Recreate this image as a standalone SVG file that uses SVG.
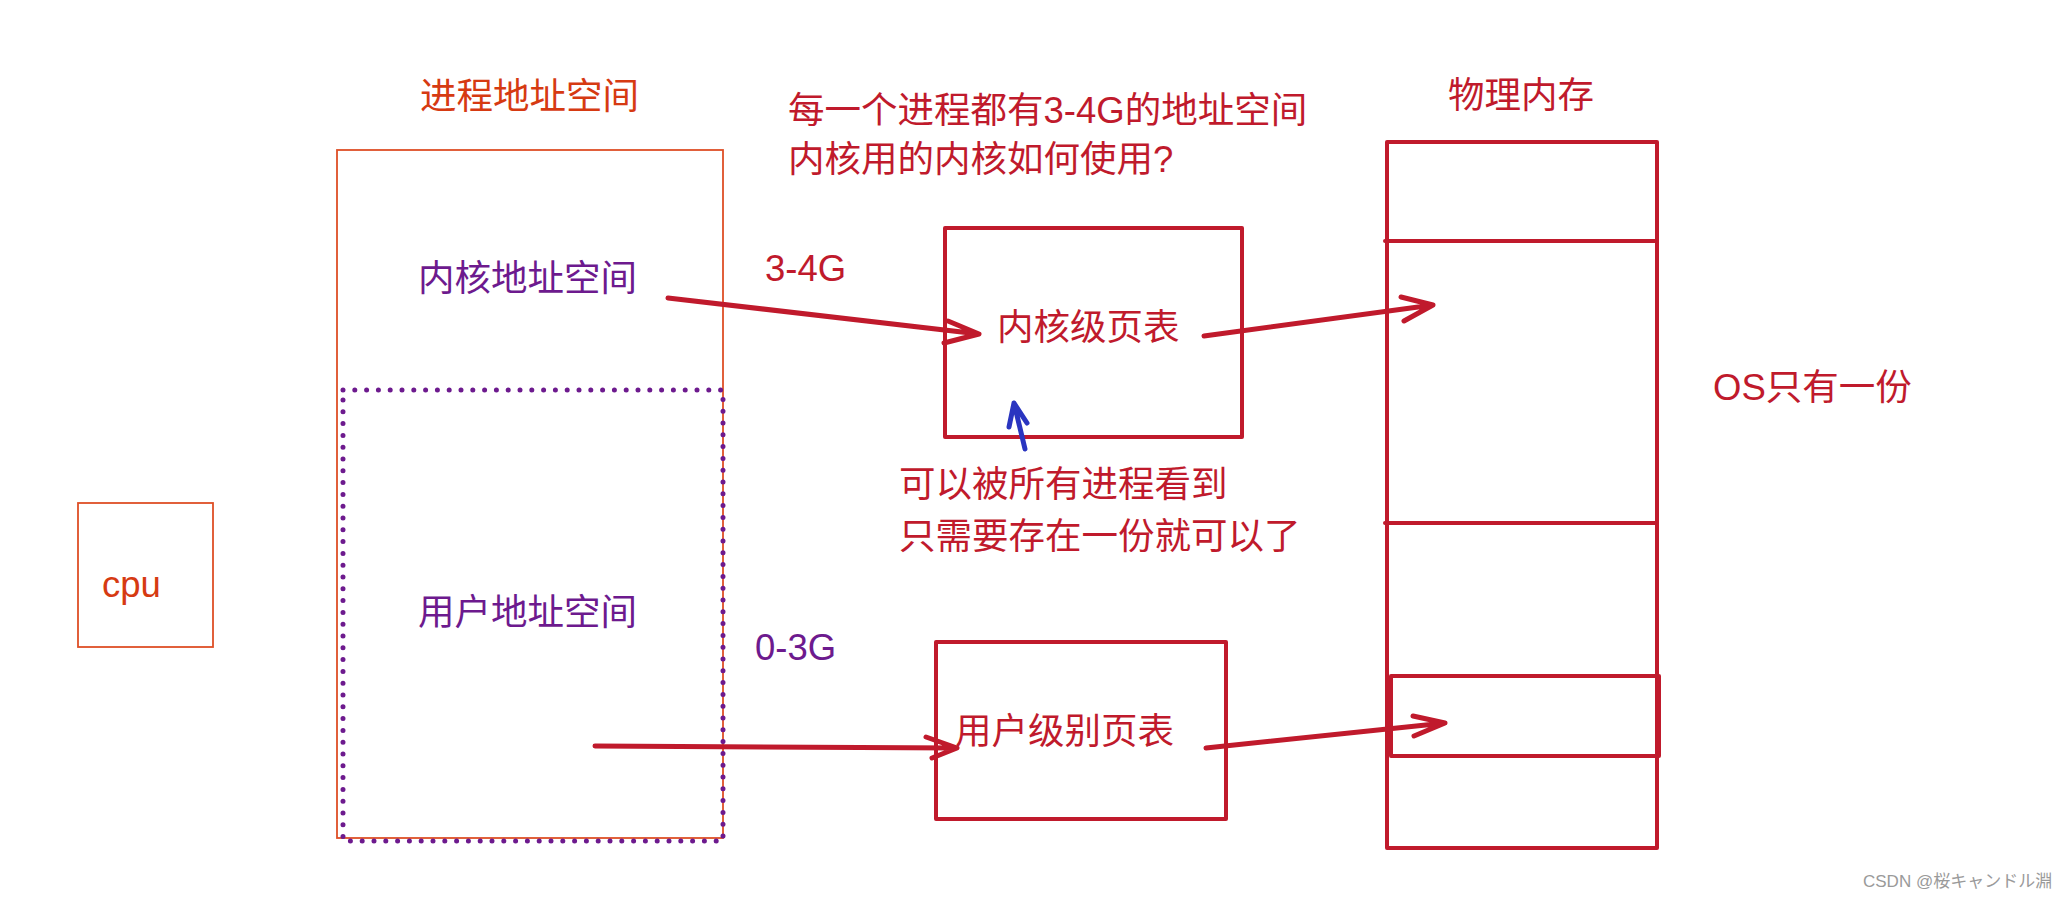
<svg xmlns="http://www.w3.org/2000/svg" width="2058" height="900" viewBox="0 0 2058 900">
<style>
text{font-family:"Liberation Sans","Noto Sans CJK SC",sans-serif;font-size:36.5px}
.or{fill:#d63a12}
.pu{fill:#6d1a8e}
.rd{fill:#c01a2c}
.thin{fill:none;stroke:#de4f26;stroke-width:1.8}
.dot{fill:none;stroke:#6d1a8e;stroke-width:5;stroke-dasharray:0 11.8;stroke-linecap:round}
.box{fill:none;stroke:#c01a2c;stroke-width:4;stroke-linejoin:round;stroke-linecap:round}
.arr{fill:none;stroke:#c01a2c;stroke-width:5;stroke-linecap:round;stroke-linejoin:round}
.blue{fill:none;stroke:#2a35c0;stroke-width:5;stroke-linecap:round;stroke-linejoin:round}
</style>
<g id="cpu">
<rect class="thin" x="78" y="503" width="135" height="144"/>
<text class="or" x="102" y="597">cpu</text>
</g>
<g id="process-space">
<text class="or" x="420" y="109">进程地址空间</text>
<rect class="thin" x="337" y="150" width="386" height="688"/>
<text class="pu" x="418" y="291">内核地址空间</text>
</g>
<g id="user-space">
<path class="dot" d="M343 390 H723 V841 H343 Z"/>
<text class="pu" x="418" y="625">用户地址空间</text>
</g>
<g id="notes">
<text class="rd" x="788" y="123">每一个进程都有3-4G的地址空间</text>
<text class="rd" x="788" y="172">内核用的内核如何使用?</text>
<text class="rd" x="899" y="497">可以被所有进程看到</text>
<text class="rd" x="899" y="549">只需要存在一份就可以了</text>
<text class="rd" x="1713" y="400">OS只有一份</text>
</g>
<g id="kernel-page-table">
<rect class="box" x="945" y="228" width="297" height="209"/>
<text class="rd" x="997" y="340">内核级页表</text>
</g>
<g id="user-page-table">
<rect class="box" x="936" y="642" width="290" height="177"/>
<text class="rd" x="955" y="744">用户级别页表</text>
</g>
<g id="physical-memory">
<text class="rd" x="1448" y="108">物理内存</text>
<rect class="box" x="1387" y="142" width="270" height="706"/>
<path class="box" d="M1385 241 H1655 M1385 523 H1655"/>
<rect class="box" x="1391" y="676" width="268" height="80"/>
</g>
<g id="connectors">
<text class="rd" x="765" y="281">3-4G</text>
<text class="pu" x="755" y="660">0-3G</text>
<path class="arr" d="M668 298 L979 334 M948 321 L979 334 L944 343"/>
<path class="arr" d="M595 746 L957 748 M926 737 L957 748 L932 758"/>
<path class="arr" d="M1204 336 L1433 305 M1401 297 L1433 305 L1404 321"/>
<path class="arr" d="M1206 748 L1445 723 M1413 716 L1445 723 L1414 736"/>
<path class="blue" d="M1025 449 L1014 403 M1009 427 L1014 403 L1027 423"/>
</g>
<text x="1863" y="887" style="font-size:17px;fill:#9a9a9a;font-family:'Liberation Sans','Noto Sans CJK JP',sans-serif">CSDN @桜キャンドル淵</text>
</svg>
